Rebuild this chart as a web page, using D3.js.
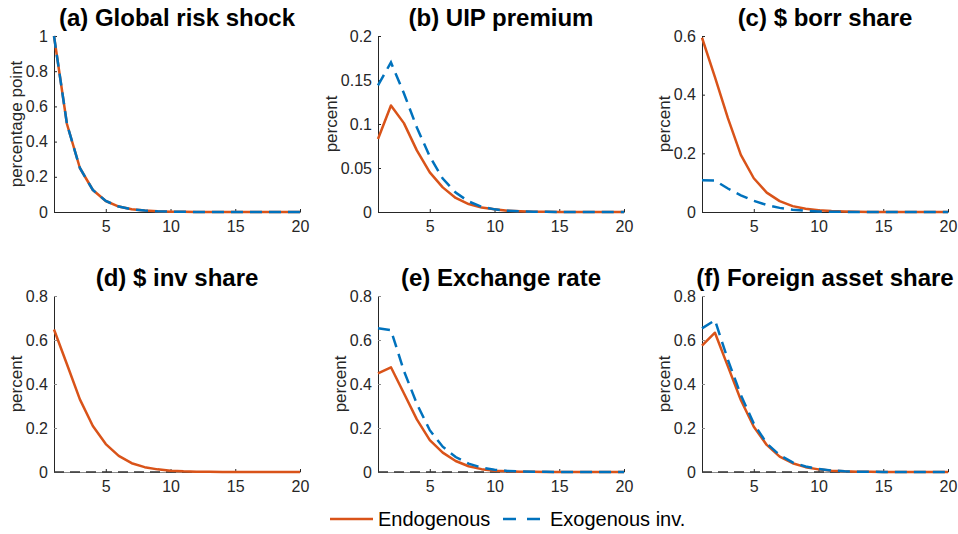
<!DOCTYPE html>
<html>
<head>
<meta charset="utf-8">
<script src="https://cdn.jsdelivr.net/npm/d3@7"></script>
<style>
  body { margin: 0; background: #fff; }
  svg { display: block; font-family: "Liberation Sans", Arial, Helvetica, sans-serif; }
  .tick text { fill: #262626; }
</style>
</head>
<body>
<svg id="chart" width="958" height="534"></svg>
<script>
const periods = [1, 2, 3, 4, 5, 6, 7, 8, 9, 10, 11, 12, 13, 14, 15, 16, 17, 18, 19, 20];

const riskEndo = [1, 0.5, 0.25, 0.125, 0.0625, 0.031, 0.016, 0.008, 0.004, 0.002, 0.001, 0.0005, 0.0002, 0.0001, 0, 0, 0, 0, 0, 0];
const riskExo  = [1, 0.5, 0.25, 0.125, 0.0625, 0.031, 0.016, 0.008, 0.004, 0.002, 0.001, 0.0005, 0.0002, 0.0001, 0, 0, 0, 0, 0, 0];

const uipEndo = [0.083, 0.121, 0.101, 0.070, 0.045, 0.028, 0.016, 0.009, 0.005, 0.003, 0.0015, 0.0008, 0.0004, 0.0002, 0.0001, 0, 0, 0, 0, 0];
const uipExo  = [0.144, 0.170, 0.135, 0.096, 0.063, 0.038, 0.022, 0.012, 0.006, 0.003, 0.0015, 0.0008, 0.0004, 0.0002, 0.0001, 0, 0, 0, 0, 0];

const borrEndo = [0.594, 0.46, 0.32, 0.195, 0.115, 0.066, 0.037, 0.020, 0.011, 0.006, 0.003, 0.0015, 0.0008, 0.0004, 0.0002, 0.0001, 0, 0, 0, 0];
const borrExo  = [0.108, 0.107, 0.080, 0.057, 0.038, 0.024, 0.014, 0.008, 0.004, 0.002, 0.001, 0.0005, 0.0002, 0.0001, 0, 0, 0, 0, 0, 0];

const invEndo = [0.648, 0.49, 0.33, 0.209, 0.127, 0.073, 0.040, 0.022, 0.012, 0.006, 0.003, 0.0015, 0.0008, 0.0004, 0.0002, 0.0001, 0, 0, 0, 0];

const fxEndo = [0.448, 0.476, 0.358, 0.239, 0.145, 0.088, 0.050, 0.026, 0.013, 0.006, 0.003, 0.0015, 0.0007, 0.0003, 0.0001, 0, 0, 0, 0, 0];
const fxExo  = [0.653, 0.645, 0.46, 0.31, 0.19, 0.115, 0.068, 0.038, 0.020, 0.010, 0.005, 0.0025, 0.0012, 0.0006, 0.0003, 0.0001, 0, 0, 0, 0];

const fasEndo = [0.574, 0.633, 0.48, 0.327, 0.206, 0.123, 0.070, 0.040, 0.022, 0.012, 0.006, 0.003, 0.0015, 0.0007, 0.0003, 0.0001, 0, 0, 0, 0];
const fasExo  = [0.653, 0.69, 0.51, 0.35, 0.22, 0.13, 0.077, 0.044, 0.025, 0.014, 0.007, 0.0035, 0.0017, 0.0008, 0.0004, 0.0002, 0.0001, 0, 0, 0];

const titles = ["(a) Global risk shock", "(b) UIP premium", "(c) $ borr share",
                "(d) $ inv share", "(e) Exchange rate", "(f) Foreign asset share"];
const yLabels = ["percentage point", "percent", "percent", "percent", "percent", "percent"];
const yTicks = [
  [0, 0.2, 0.4, 0.6, 0.8, 1],
  [0, 0.05, 0.1, 0.15, 0.2],
  [0, 0.2, 0.4, 0.6],
  [0, 0.2, 0.4, 0.6, 0.8],
  [0, 0.2, 0.4, 0.6, 0.8],
  [0, 0.2, 0.4, 0.6, 0.8]
];
const xTicks = [5, 10, 15, 20];
const endoSeries = [riskEndo, uipEndo, borrEndo, invEndo, fxEndo, fasEndo];
const exoSeries = [riskExo, uipExo, borrExo, null, fxExo, fasExo];
const legendLabels = ["Endogenous", "Exogenous inv."];

const orange = "#D95319";
const blue = "#0072BD";

const svg = d3.select("#chart");

// panel layout (matlab subplot 2x3)
const colX = [54, 378, 702];
const rowY = [36, 296];
const pw = 246, ph = 176;

titles.forEach((title, i) => {
  const col = i % 3, row = Math.floor(i / 3);
  const g = svg.append("g")
    .attr("transform", `translate(${colX[col]},${rowY[row]})`);

  const ticks = yTicks[i];
  const x = d3.scaleLinear().domain([1, 20]).range([0, pw]);
  const y = d3.scaleLinear().domain([0, ticks[ticks.length - 1]]).range([ph, 0]);

  const yAxis = g.append("g")
    .call(d3.axisLeft(y).tickValues(ticks).tickFormat(d3.format("~g"))
      .tickSizeInner(-3).tickSizeOuter(0).tickPadding(6));
  const xAxis = g.append("g")
    .attr("transform", `translate(0,${ph})`)
    .call(d3.axisBottom(x).tickValues(xTicks).tickFormat(d3.format("d"))
      .tickSizeInner(-3).tickSizeOuter(0).tickPadding(9));

  [yAxis, xAxis].forEach(a => {
    a.selectAll("path, line").attr("stroke", row === 1 ? "#8c8c8c" : "#262626").attr("stroke-width", 1);
    a.selectAll("text").attr("font-size", 16).attr("fill", "#262626");
  });
  yAxis.select(".domain").attr("stroke", "#262626");
  xAxis.selectAll(".tick line").attr("stroke", "#262626");

  // dashed zero line in bottom row
  if (row === 1) {
    g.append("line")
      .attr("x1", x(1)).attr("x2", x(20))
      .attr("y1", y(0)).attr("y2", y(0))
      .attr("stroke", "#333").attr("stroke-width", 1.4)
      .attr("stroke-dasharray", "10,6");
  }

  const line = d3.line()
    .x((d, k) => x(periods[k]))
    .y(d => y(d));

  g.append("path")
    .datum(endoSeries[i])
    .attr("fill", "none")
    .attr("stroke", orange)
    .attr("stroke-width", 2.5)
    .attr("stroke-linejoin", "round")
    .attr("d", line);

  if (exoSeries[i]) {
    g.append("path")
      .datum(exoSeries[i])
      .attr("fill", "none")
      .attr("stroke", blue)
      .attr("stroke-width", 2.5)
      .attr("stroke-dasharray", "12,7")
      .attr("d", line);
  }

  // ylabel sits left of the widest tick label
  let maxW = 0;
  yAxis.selectAll(".tick text").each(function() {
    maxW = Math.max(maxW, this.getComputedTextLength());
  });
  g.append("text")
    .attr("transform", `translate(${-6 - maxW - 10},${ph / 2}) rotate(-90)`)
    .attr("text-anchor", "middle")
    .attr("dy", "0.35em")
    .attr("font-size", 17)
    .attr("fill", "#262626")
    .text(yLabels[i]);

  g.append("text")
    .attr("x", pw / 2)
    .attr("y", -10)
    .attr("text-anchor", "middle")
    .attr("font-size", 24)
    .attr("font-weight", "bold")
    .attr("fill", "#000")
    .text(title);
});

// legend
const legend = svg.append("g").attr("transform", "translate(330,519)");
legend.append("line")
  .attr("x1", 0).attr("x2", 43).attr("y1", 0).attr("y2", 0)
  .attr("stroke", orange).attr("stroke-width", 2.5);
legend.append("text")
  .attr("x", 48).attr("y", 7)
  .attr("font-size", 20).attr("fill", "#000")
  .text(legendLabels[0]);
legend.append("line")
  .attr("x1", 173).attr("x2", 210).attr("y1", 0).attr("y2", 0)
  .attr("stroke", blue).attr("stroke-width", 2.5)
  .attr("stroke-dasharray", "13,11");
legend.append("text")
  .attr("x", 220).attr("y", 7)
  .attr("font-size", 20).attr("fill", "#000")
  .text(legendLabels[1]);
</script>
</body>
</html>
